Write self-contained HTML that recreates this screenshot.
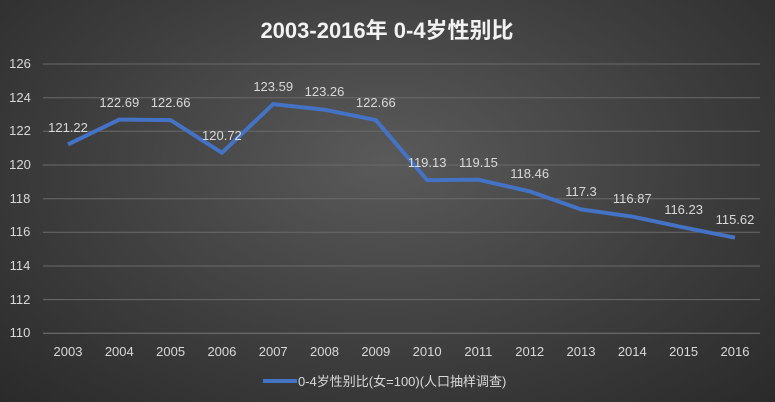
<!DOCTYPE html>
<html><head><meta charset="utf-8"><style>
html,body{margin:0;padding:0;}
body{width:775px;height:402px;overflow:hidden;background:radial-gradient(ellipse at 50% 40%,#5a5a5a 0%,#3c3c3c 60%,#2a2a2a 100%);font-family:"Liberation Sans","Noto Sans CJK SC",sans-serif;}
</style></head><body>
<svg width="775" height="402" xmlns="http://www.w3.org/2000/svg" style="position:absolute;left:0;top:0">
<text x="387" y="38" fill="#f2f2f2" font-size="22" font-weight="bold" text-anchor="middle" font-family="Liberation Sans,Noto Sans CJK SC,sans-serif">2003-2016年 0-4岁性别比</text>
<g stroke="#6a6a6a" stroke-width="1">
<line x1="43" x2="760" y1="64" y2="64"/><line x1="43" x2="760" y1="97.7" y2="97.7"/><line x1="43" x2="760" y1="131.3" y2="131.3"/><line x1="43" x2="760" y1="165" y2="165"/><line x1="43" x2="760" y1="198.7" y2="198.7"/><line x1="43" x2="760" y1="232.3" y2="232.3"/><line x1="43" x2="760" y1="266" y2="266"/><line x1="43" x2="760" y1="299.6" y2="299.6"/><line x1="43" x2="760" y1="333.3" y2="333.3" stroke="#777"/>
</g>
<g fill="#d9d9d9" font-size="13" text-anchor="middle">
<text x="20" y="68">126</text><text x="20" y="102">124</text><text x="20" y="135">122</text><text x="20" y="169">120</text><text x="20" y="203">118</text><text x="20" y="236">116</text><text x="20" y="270">114</text><text x="20" y="304">112</text><text x="20" y="337">110</text>
<text x="68" y="356">2003</text><text x="119.3" y="356">2004</text><text x="170.6" y="356">2005</text><text x="221.9" y="356">2006</text><text x="273.2" y="356">2007</text><text x="324.5" y="356">2008</text><text x="375.8" y="356">2009</text><text x="427.1" y="356">2010</text><text x="478.4" y="356">2011</text><text x="529.7" y="356">2012</text><text x="581" y="356">2013</text><text x="632.3" y="356">2014</text><text x="683.6" y="356">2015</text><text x="735" y="356">2016</text>
</g>
<polyline fill="none" stroke="#4472c4" stroke-width="4" stroke-linejoin="round" points="68,144.4 119.3,119.6 170.6,120.1 221.9,152.8 273.2,104.1 324.5,109.7 375.8,120.1 427.1,180.1 478.4,179.7 529.7,191.4 581,209.4 632.3,216.6 683.6,227.4 735,237.7"/>
<g fill="#d9d9d9" font-size="13" text-anchor="middle">
<text x="68" y="132">121.22</text><text x="119.3" y="107">122.69</text><text x="170.6" y="107">122.66</text><text x="221.9" y="140">120.72</text><text x="273.2" y="91">123.59</text><text x="324.5" y="96">123.26</text><text x="375.8" y="107">122.66</text><text x="427.1" y="167">119.13</text><text x="478.4" y="167">119.15</text><text x="529.7" y="178">118.46</text><text x="581" y="196">117.3</text><text x="632.3" y="203">116.87</text><text x="683.6" y="214">116.23</text><text x="735" y="224">115.62</text>
</g>
<line x1="263" x2="297" y1="381" y2="381" stroke="#4472c4" stroke-width="4"/>
<text x="298" y="386" fill="#d9d9d9" font-size="13">0-4岁性别比(女=100)(人口抽样调查)</text>
</svg>
</body></html>
